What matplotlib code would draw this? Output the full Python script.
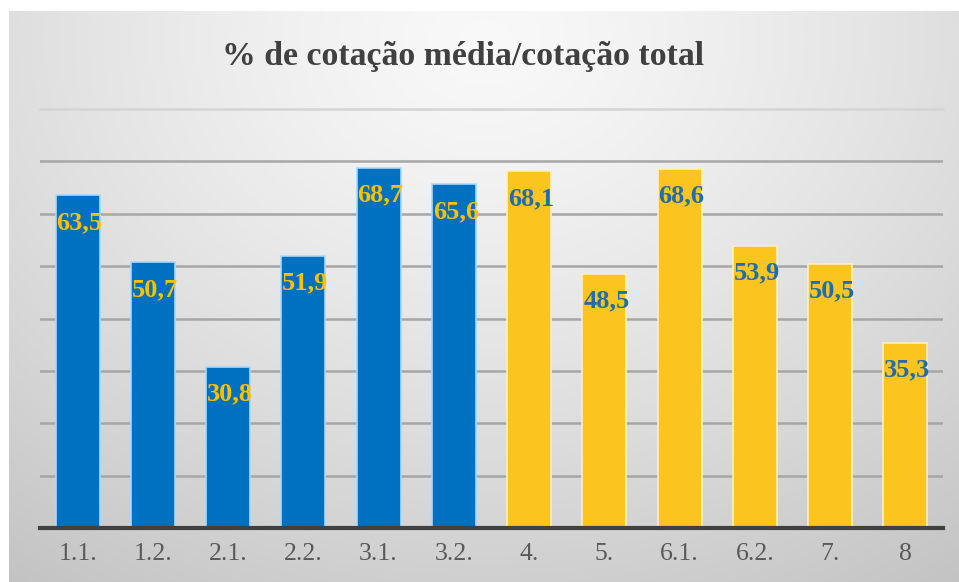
import numpy as np
import matplotlib
matplotlib.use("Agg")
import matplotlib.pyplot as plt

categories = ["1.1.", "1.2.", "2.1.", "2.2.", "3.1.", "3.2.", "4.", "5.", "6.1.", "6.2.", "7.", "8"]
values = [63.5, 50.7, 30.8, 51.9, 68.7, 65.6, 68.1, 48.5, 68.6, 53.9, 50.5, 35.3]
labels = ["63,5", "50,7", "30,8", "51,9", "68,7", "65,6", "68,1", "48,5", "68,6", "53,9", "50,5", "35,3"]
groups = ["blue"] * 6 + ["yellow"] * 6
title = "% de cotação média/cotação total"

BLUE = "#0070C0"
YELLOW = "#FCC41E"
fill = {"blue": BLUE, "yellow": YELLOW}
edge = {"blue": "#A9D8FF", "yellow": "#FFF0C0"}
lab_col = {"blue": "#FFC000", "yellow": "#1F6DAF"}

W, H = 959, 582
fig = plt.figure(figsize=(W / 100, H / 100), dpi=100)
fig.patch.set_facecolor("white")

# background gradient panel
bg = fig.add_axes([9 / W, 0, 1 - 9 / W, 1 - 11 / H])
bg.set_axis_off()
ny, nx = 300, 500
yy, xx = np.mgrid[0:ny, 0:nx]
cx, cy = nx * 0.5, ny * 0.05
d = np.sqrt(((xx - cx) / nx) ** 2 + ((yy - cy) / ny * 0.75) ** 2)
d = d / d.max()
val = 0.975 - 0.21 * d ** 1.3
img = np.dstack([val, val, val])
bg.imshow(img, aspect="auto", extent=[0, 1, 0, 1], origin="upper", interpolation="bilinear")
bg.set_xlim(0, 1)
bg.set_ylim(0, 1)

ax = fig.add_axes([40 / W, (H - 528) / H, (943 - 40) / W, (528 - 109) / H])
ax.patch.set_alpha(0)
x = np.arange(len(categories))
bars = ax.bar(x, values, width=0.585,
              color=[fill[g] for g in groups],
              edgecolor=[edge[g] for g in groups], linewidth=1.2, zorder=3)
ax.set_xlim(-0.5, len(categories) - 0.5)
ax.set_ylim(0, 80)
ax.set_yticks(np.arange(10, 71, 10))
ax.yaxis.grid(True, color="#A6A6A6", linewidth=1.8, zorder=0)
ax.axhline(80, color="#D4D4D4", linewidth=1.8, zorder=0, clip_on=False)
ax.set_axisbelow(True)
ax.tick_params(axis="y", left=False, labelleft=False)
ax.tick_params(axis="x", length=0, pad=11)
ax.set_xticks(x)
ax.set_xticklabels(categories, fontsize=18.5, color="#595959", family="Liberation Serif")
for s in ["top", "right", "left"]:
    ax.spines[s].set_visible(False)
ax.spines["bottom"].set_color("#404040")
ax.spines["bottom"].set_linewidth(3)
ax.spines["bottom"].set_zorder(4)

for xi, v, lab, g in zip(x, values, labels, groups):
    ax.annotate(lab, (xi, v), xytext=(2, -27), textcoords="offset pixels",
                ha="center", va="center", fontsize=19, fontweight="bold",
                color=lab_col[g], family="Liberation Serif", zorder=5)

fig.text(463 / W, 1 - 57 / H, title, ha="center", va="center", fontsize=24.3,
         fontweight="bold", color="#404040", family="Liberation Serif")

fig.savefig("out.png", dpi=100)
